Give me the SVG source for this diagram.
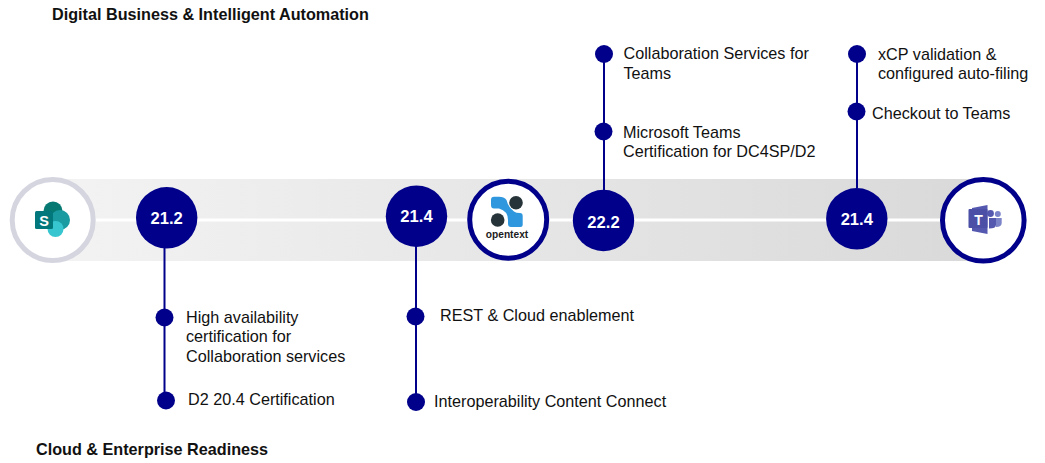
<svg xmlns="http://www.w3.org/2000/svg" width="1045" height="463" viewBox="0 0 1045 463">
<style>
text{font-family:"Liberation Sans",Arial,sans-serif;fill:#111}
.h{font-size:16.2px;font-weight:700}
.l{font-size:16.2px}
.v{font-size:16.6px;font-weight:700;fill:#fff;text-anchor:middle}
.m{fill:#00008b}
.c{stroke:#00008b;stroke-width:2;fill:none}
</style>
<defs><linearGradient id="g"><stop offset="0" stop-color="#f3f3f3"/><stop offset="1" stop-color="#d9d9d9"/></linearGradient></defs>
<g id="band"><rect x="52" y="179" width="932" height="82" fill="url(#g)"/><rect x="52" y="218.500" width="932" height="3" fill="#fff"/></g>
<g id="connectors">
<path class="c" d="M164.500 248V400.500M416 246V402M604 54V190M857 54V188"/>
</g>
<g id="sharepoint"><circle cx="52.700" cy="220" r="40.500" fill="#fff" stroke="#d5d5e0" stroke-width="5"/>
<circle cx="53" cy="211" r="9.500" fill="#067a72"/><circle cx="60" cy="220" r="10" fill="#1a9ba1"/><circle cx="55.500" cy="229" r="8" fill="#37c6d0"/>
<rect x="35" y="211" width="18" height="18" rx="1.500" fill="#03787c"/><text x="44" y="225.500" font-size="14.500" font-weight="700" text-anchor="middle" style="fill:#fff">S</text></g>
<g id="v212"><circle class="m" cx="166.700" cy="217.800" r="30.700"/><text class="v" x="166.700" y="224">21.2</text></g>
<g id="v214a"><circle class="m" cx="416.500" cy="216.200" r="30.700"/><text class="v" x="416.500" y="222">21.4</text></g>
<g id="opentext"><circle cx="508.200" cy="219.700" r="38.500" fill="#fff" stroke="#00008b" stroke-width="5"/>
<circle cx="516" cy="202.700" r="6.800" fill="#26343a"/><circle cx="497.700" cy="220" r="6.800" fill="#26343a"/>
<path d="M494 196.700H499Q504 196.700 506.500 200Q508 207 514 211.500Q516 213 520 213Q522.700 213 522.700 216V225Q522.700 227 520.500 227H511Q508 227 508 224V220Q508 211 499 208.500H494Q491 208.500 491 205V200Q491 196.700 494 196.700Z" fill="#2f97dd"/>
<text x="507" y="238" font-size="10.200" font-weight="700" text-anchor="middle" style="fill:#1c1c1c">opentext</text></g>
<g id="v222"><circle class="m" cx="603.500" cy="220.500" r="30.700"/><text class="v" x="603.500" y="228">22.2</text></g>
<g id="v214b"><circle class="m" cx="856.800" cy="218.800" r="30.700"/><text class="v" x="856.800" y="225">21.4</text></g>
<g id="teams"><circle cx="983.300" cy="220.300" r="40.800" fill="#fff" stroke="#00008b" stroke-width="5"/>
<circle cx="990.500" cy="213.500" r="3.400" fill="#5558af"/><circle cx="997.800" cy="214" r="3" fill="#7b83c9"/>
<path d="M989 218H996V225Q996 228.500 989 228.500Z" fill="#5558af"/><path d="M996 218H1001.700V223Q1001.700 227 996 227Z" fill="#7b83c9"/>
<path d="M972 208L987.500 205V234L972 231Z" fill="#5558af"/>
<rect x="968.500" y="209" width="19" height="19" rx="1" fill="#4b4fa6"/>
<text x="978.500" y="224.500" font-size="14" font-weight="700" text-anchor="middle" style="fill:#fff">T</text></g>
<g id="title-top"><text class="h" x="52" y="20">Digital Business &amp; Intelligent Automation</text></g>
<g id="title-bottom"><text class="h" x="36" y="455">Cloud &amp; Enterprise Readiness</text></g>
<g id="i1"><circle class="m" cx="604" cy="54" r="9"/><text class="l" x="623.500" y="59">Collaboration Services for</text><text class="l" x="623.500" y="79">Teams</text></g>
<g id="i2"><circle class="m" cx="603.500" cy="131.500" r="9"/><text class="l" x="623" y="137.500">Microsoft Teams</text><text class="l" x="623" y="157">Certification for DC4SP/D2</text></g>
<g id="i3"><circle class="m" cx="857" cy="54" r="9"/><text class="l" x="878" y="60">xCP validation &amp;</text><text class="l" x="878" y="79">configured auto-filing</text></g>
<g id="i4"><circle class="m" cx="856.500" cy="111.500" r="9"/><text class="l" x="872" y="119">Checkout to Teams</text></g>
<g id="i5"><circle class="m" cx="164.500" cy="317.500" r="9"/><text class="l" x="186" y="323">High availability</text><text class="l" x="186" y="342">certification for</text><text class="l" x="186" y="362">Collaboration services</text></g>
<g id="i6"><circle class="m" cx="166" cy="400.500" r="9"/><text class="l" x="188" y="405">D2 20.4 Certification</text></g>
<g id="i7"><circle class="m" cx="415.500" cy="316.500" r="9"/><text class="l" x="440" y="321">REST &amp; Cloud enablement</text></g>
<g id="i8"><circle class="m" cx="416" cy="402" r="9"/><text class="l" x="434" y="407">Interoperability Content Connect</text></g>
</svg>
